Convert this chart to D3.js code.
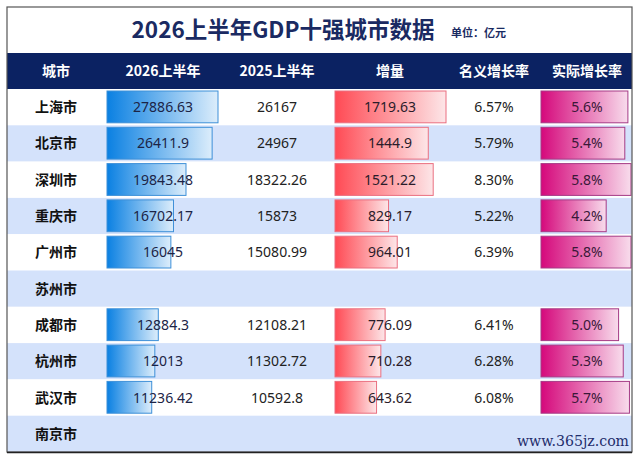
<!DOCTYPE html>
<html>
<head>
<meta charset="utf-8">
<script src="https://cdn.jsdelivr.net/npm/d3@7"></script>
<style>
  html,body{margin:0;padding:0;background:#fff;}
  svg{display:block;}
  text{font-family:"Noto Sans CJK SC","Noto Sans",sans-serif;}
</style>
</head>
<body>
<svg id="chart" width="640" height="460"></svg>
<script>
const title = "2026上半年GDP十强城市数据";
const unitLabel = "单位：亿元";
const headers = ["城市","2026上半年","2025上半年","增量","名义增长率","实际增长率"];
const cities = ["上海市","北京市","深圳市","重庆市","广州市","苏州市","成都市","杭州市","武汉市","南京市"];
const gdp2026 = [27886.63, 26411.9, 19843.48, 16702.17, 16045, null, 12884.3, 12013, 11236.42, null];
const gdp2025 = [26167, 24967, 18322.26, 15873, 15080.99, null, 12108.21, 11302.72, 10592.8, null];
const increment = [1719.63, 1444.9, 1521.22, 829.17, 964.01, null, 776.09, 710.28, 643.62, null];
const nominalRate = [6.57, 5.79, 8.30, 5.22, 6.39, null, 6.41, 6.28, 6.08, null];
const realRate = [5.6, 5.4, 5.8, 4.2, 5.8, null, 5.0, 5.3, 5.7, null];
const watermark = "www.365jz.com";

const svg = d3.select("#chart");
const W = 640, H = 460;
const frame = {x:7, y:7, w:625, h:445};
const headerTop = 53, headerBottom = 89, tableBottom = 452;

const colCenter = [56,163,277,390,494,587];

const defs = svg.append("defs");
function grad(id, c0, c1){
  const g = defs.append("linearGradient").attr("id",id).attr("x1","0%").attr("x2","100%").attr("y1","0%").attr("y2","0%");
  g.append("stop").attr("offset","0%").attr("stop-color",c0);
  g.append("stop").attr("offset","100%").attr("stop-color",c1);
}
grad("gBlue","#0a80e2","#dcedfb");
grad("gRed","#ff4a54","#fde6e8");
grad("gMag","#d5087b","#f8dcec");

svg.append("rect").attr("x",0).attr("y",0).attr("width",W).attr("height",H).attr("fill","#fff");

svg.append("text").attr("x",283).attr("y",38).attr("text-anchor","middle")
  .attr("font-size",22.5).attr("font-weight","bold").attr("fill","#1a2a62").text(title);
svg.append("text").attr("x",451).attr("y",37).attr("text-anchor","start")
  .attr("font-size",11).attr("font-weight","bold").attr("fill","#1a2a62").text(unitLabel);

svg.append("rect").attr("x",frame.x).attr("y",headerTop).attr("width",frame.w).attr("height",headerBottom-headerTop).attr("fill","#0b2262");
svg.selectAll("text.hdr").data(headers).join("text").attr("class","hdr")
  .attr("x",(d,i)=>colCenter[i]).attr("y",(headerTop+headerBottom)/2+5)
  .attr("text-anchor","middle").attr("font-size",14).attr("font-weight","bold").attr("fill","#fff").text(d=>d);

const y = d3.scaleBand().domain(cities).range([headerBottom, tableBottom]).paddingInner(0);
const rowData = cities.map((c,i)=>({city:c, i, g26:gdp2026[i], g25:gdp2025[i], inc:increment[i], nom:nominalRate[i], real:realRate[i]}));

svg.selectAll("rect.rowbg").data(rowData).join("rect").attr("class","rowbg")
  .attr("x",frame.x).attr("y",d=>y(d.city)).attr("width",frame.w).attr("height",y.bandwidth())
  .attr("fill",d=>d.i%2===1?"#d4e2fb":"#ffffff");

const x26 = d3.scaleLinear().domain([0, d3.max(gdp2026)]).range([0, 111]);
const xInc = d3.scaleLinear().domain([0, d3.max(increment)]).range([0, 111]);
const xReal = d3.scaleLinear().domain([0, d3.max(realRate)]).range([0, 90]);

const padY = 2;
function bars(cls, key, scale, x0, fill, stroke){
  svg.selectAll("rect."+cls).data(rowData.filter(d=>d[key]!=null)).join("rect").attr("class",cls)
    .attr("x",x0).attr("y",d=>y(d.city)+padY)
    .attr("width",d=>scale(d[key])).attr("height",y.bandwidth()-padY*2-0.5)
    .attr("fill",fill).attr("stroke",stroke).attr("stroke-width",1);
}
bars("b26","g26",x26,107,"url(#gBlue)","#3d8fd8");
bars("binc","inc",xInc,335,"url(#gRed)","#ea6f80");
bars("breal","real",xReal,541,"url(#gMag)","#a53a86");

svg.selectAll("text.city").data(rowData).join("text").attr("class","city")
  .attr("x",colCenter[0]).attr("y",d=>y(d.city)+y.bandwidth()/2+5)
  .attr("text-anchor","middle").attr("font-size",14).attr("font-weight","bold").attr("fill","#111").text(d=>d.city);

function values(cls, key, ci, fmt, color){
  svg.selectAll("text."+cls).data(rowData.filter(d=>d[key]!=null)).join("text").attr("class",cls)
    .attr("x",colCenter[ci]).attr("y",d=>y(d.city)+y.bandwidth()/2+5)
    .attr("text-anchor","middle").attr("font-size",14).attr("fill",color)
    .style("font-family","'Noto Sans',sans-serif").text(d=>fmt(d[key]));
}
values("v26","g26",1,v=>String(v),"#1c2446");
values("v25","g25",2,v=>String(v),"#222");
values("vinc","inc",3,v=>String(v),"#2a1c2a");
values("vnom","nom",4,v=>v.toFixed(2)+"%","#222");
values("vreal","real",5,v=>v.toFixed(1)+"%","#3a1838");

svg.append("rect").attr("x",frame.x).attr("y",frame.y).attr("width",frame.w).attr("height",frame.h)
  .attr("fill","none").attr("stroke","#555").attr("stroke-width",1.2);
svg.append("line").attr("x1",frame.x).attr("x2",frame.x+frame.w).attr("y1",frame.y+frame.h+0.5).attr("y2",frame.y+frame.h+0.5)
  .attr("stroke","#222").attr("stroke-width",1.5);

svg.append("text").attr("x",629).attr("y",446).attr("text-anchor","end")
  .attr("font-size",15).attr("fill","#1f2d6b").attr("textLength",112).attr("lengthAdjust","spacingAndGlyphs")
  .style("font-family","'DejaVu Serif',serif").text(watermark);
</script>
</body>
</html>
